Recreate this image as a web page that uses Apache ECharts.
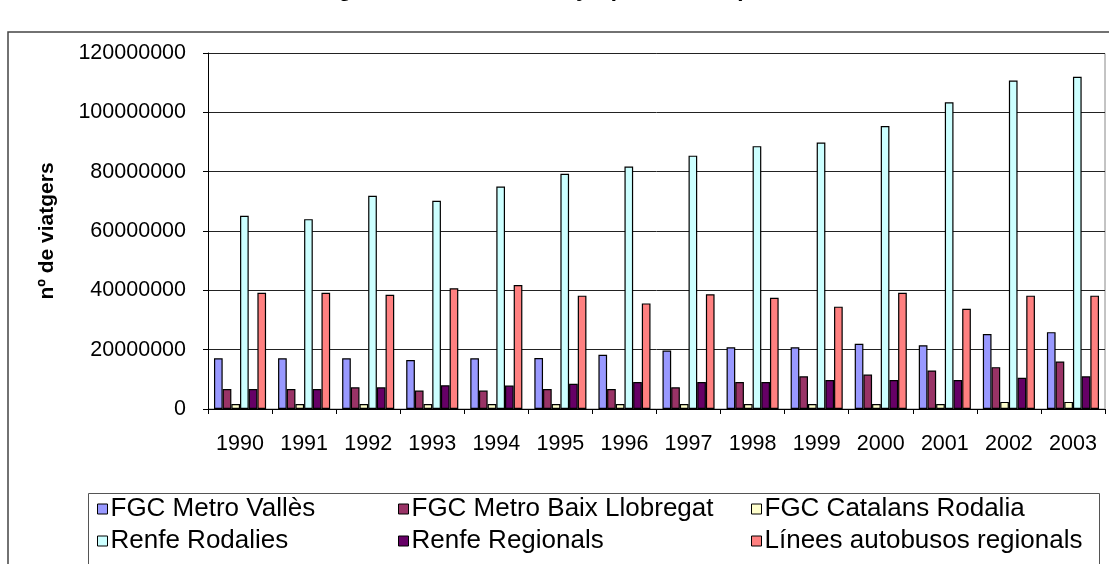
<!DOCTYPE html>
<html>
<head>
<meta charset="utf-8">
<script src="https://cdn.jsdelivr.net/npm/echarts@6/dist/echarts.min.js"></script>
<style>
  html, body { margin: 0; padding: 0; background: #fff; }
  #chart { width: 1109px; height: 564px; }
</style>
</head>
<body>
<div id="chart"></div>
<script>
// Annual passengers per operator, 1990-2003
const years = ['1990','1991','1992','1993','1994','1995','1996','1997','1998','1999','2000','2001','2002','2003'];
const yTicks = [0, 20000000, 40000000, 60000000, 80000000, 100000000, 120000000];

const fgcMetroValles   = [17100000,17100000,17100000,16500000,17100000,17200000,18300000,19700000,20800000,20800000,22000000,21500000,25300000,25900000];
const fgcMetroBaix     = [6700000,6700000,7300000,6200000,6200000,6700000,6700000,7300000,9100000,11000000,11600000,13000000,14100000,16000000];
const fgcCatalansRod   = [1700000,1700000,1700000,1700000,1700000,1700000,1700000,1700000,1700000,1700000,1700000,1700000,2400000,2400000];
const renfeRodalies    = [65100000,64000000,71900000,70200000,75000000,79300000,81700000,85400000,88600000,89800000,95400000,103400000,110700000,112000000];
const renfeRegionals   = [6700000,6700000,7300000,8000000,7900000,8500000,9100000,9100000,9100000,9800000,9800000,9800000,10500000,11000000];
const liniesAutobusos  = [39200000,39200000,38500000,40700000,41800000,38200000,35600000,38700000,37500000,34500000,39200000,33800000,38200000,38200000];

const seriesNames = ['FGC Metro Vallès','FGC Metro Baix Llobregat','FGC Catalans Rodalia','Renfe Rodalies','Renfe Regionals','Línees autobusos regionals'];
const seriesData  = [fgcMetroValles, fgcMetroBaix, fgcCatalansRod, renfeRodalies, renfeRegionals, liniesAutobusos];
const seriesColors = ['#9999FF','#993366','#FFFFCC','#CCFFFF','#660066','#FF8080'];

const FONT = '"Liberation Sans", Arial, sans-serif';

const chart = echarts.init(document.getElementById('chart'), null, { renderer: 'canvas' });

const legendBase = {
  orient: 'vertical',
  top: 496,
  itemGap: 6,
  itemWidth: 10,
  itemHeight: 10,
  icon: 'rect',
  selectedMode: false,
  textStyle: { fontFamily: FONT, fontSize: 26, color: '#000', padding: [0, 0, 0, -2] },
  itemStyle: { borderColor: '#000', borderWidth: 1 },
  padding: 0
};

chart.setOption({
  animation: false,
  backgroundColor: '#fff',
  // the title sits mostly above the top edge of the canvas
  title: {
    text: 'Evolució dels viatgers anuals a Catalunya (1990 - 2003)',
    left: 144,
    top: -22,
    padding: 0,
    textStyle: { fontFamily: FONT, fontSize: 23, fontWeight: 'bold', color: '#000' }
  },
  graphic: [
    { type: 'rect', silent: true, z: -10,
      shape: { x: 8, y: 32, width: 1120, height: 600 },
      style: { fill: 'none', stroke: '#444', lineWidth: 1.5 } },
    { type: 'rect', silent: true, z: -10,
      shape: { x: 88.5, y: 493.5, width: 1011, height: 100 },
      style: { fill: '#fff', stroke: '#555', lineWidth: 1 } },
    { type: 'rect', silent: true, z: -5,
      shape: { x: 208.5, y: 53.5, width: 896.5, height: 355.5 },
      style: { fill: 'none', stroke: '#888', lineWidth: 1 } }
  ],
  legend: [
    Object.assign({}, legendBase, { left: 97, data: [seriesNames[0], seriesNames[3]] }),
    Object.assign({}, legendBase, { left: 398, data: [seriesNames[1], seriesNames[4]] }),
    Object.assign({}, legendBase, { left: 751, data: [seriesNames[2], seriesNames[5]] })
  ],
  grid: { left: 208, top: 53, right: 4, bottom: 155, containLabel: false },
  xAxis: {
    type: 'category',
    data: years,
    axisLine: { lineStyle: { color: '#000', width: 1 } },
    axisTick: { show: true, length: 5, lineStyle: { color: '#000' } },
    axisLabel: { fontFamily: FONT, fontSize: 21.5, color: '#000', margin: 24 }
  },
  yAxis: {
    type: 'value',
    min: yTicks[0],
    max: yTicks[yTicks.length - 1],
    interval: yTicks[1] - yTicks[0],
    name: 'nº de viatgers',
    nameLocation: 'middle',
    nameRotate: 90,
    nameGap: 150,
    nameTextStyle: { fontFamily: FONT, fontSize: 21, fontWeight: 'bold', color: '#000' },
    axisLine: { show: true, lineStyle: { color: '#000', width: 1 } },
    axisTick: { show: true, length: 5, lineStyle: { color: '#000' } },
    axisLabel: { fontFamily: FONT, fontSize: 21.5, color: '#000', margin: 22, formatter: v => String(v) },
    splitLine: { show: true, lineStyle: { color: '#222', width: 1 } }
  },
  series: seriesNames.map((name, i) => ({
    name: name,
    type: 'bar',
    data: seriesData[i],
    barGap: '0%',
    barCategoryGap: '18.7%',
    itemStyle: { color: seriesColors[i], borderColor: '#000', borderWidth: 1.2 }
  }))
});
</script>
</body>
</html>
